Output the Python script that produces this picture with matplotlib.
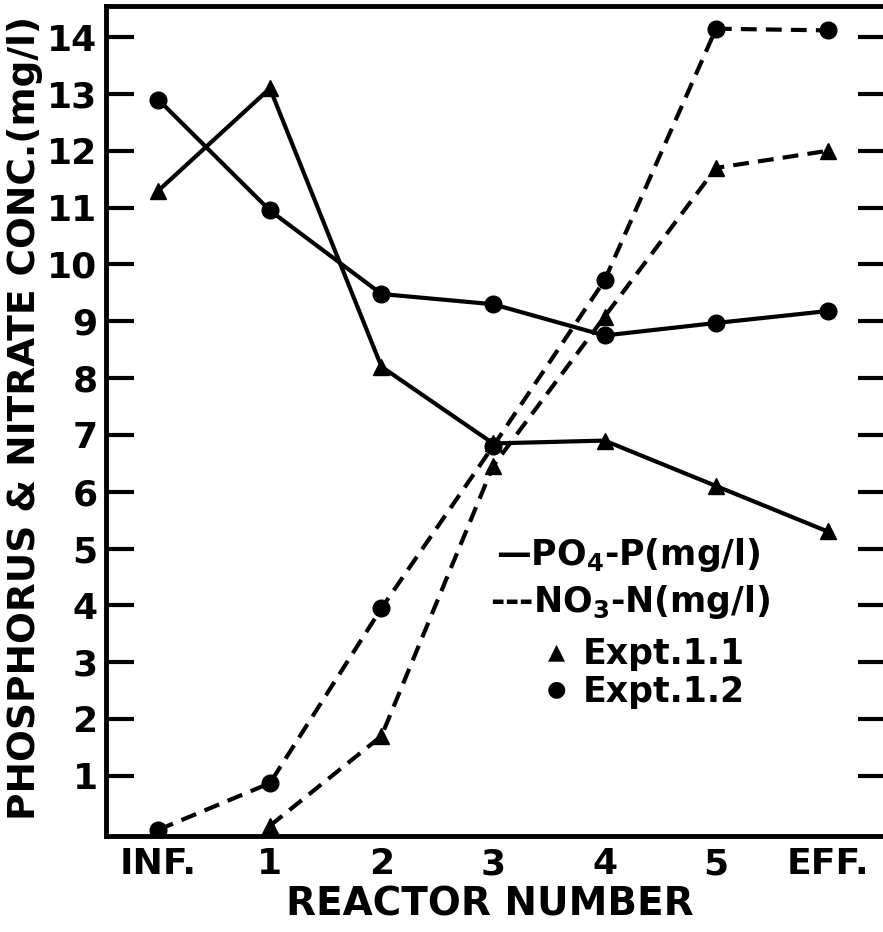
import numpy as np
import matplotlib
matplotlib.use("Agg")
import matplotlib.pyplot as plt

plt.rcParams['font.family'] = ['Liberation Sans Narrow', 'DejaVu Sans']
plt.rcParams['font.weight'] = 'bold'
plt.rcParams['mathtext.fontset'] = 'custom'
plt.rcParams['mathtext.rm'] = 'Liberation Sans Narrow:bold'
plt.rcParams['mathtext.it'] = 'Liberation Sans Narrow:bold'
plt.rcParams['mathtext.bf'] = 'Liberation Sans Narrow:bold'

# reactor positions
reactors = ['INF.', '1', '2', '3', '4', '5', 'EFF.']

# phosphate (solid lines)
po4_expt11 = [11.3, 13.1, 8.2, 6.85, 6.9, 6.1, 5.3]
po4_expt12 = [12.9, 10.95, 9.48, 9.3, 8.75, 8.97, 9.18]

# nitrate (dashed lines)
no3_expt11 = [np.nan, 0.12, 1.7, 6.45, 9.08, 11.7, 12.0]
no3_expt12 = [0.05, 0.87, 3.95, 6.8, 9.72, 14.15, 14.12]

x = np.arange(len(reactors))

fig = plt.figure(figsize=(8.83, 9.32), dpi=100)
ax = fig.add_axes([0.12, 0.103, 0.883, 0.8906])

lw = 3.0
dash = (0, (3.8, 2.2))
ax.plot(x, po4_expt11, '-', color='black', lw=lw, marker='^', ms=12)
ax.plot(x, po4_expt12, '-', color='black', lw=lw, marker='o', ms=12)
ax.plot(x, no3_expt11, color='black', lw=lw, ls=dash, marker='^', ms=12)
ax.plot(x, no3_expt12, color='black', lw=lw, ls=dash, marker='o', ms=12)

ax.set_xlim(-0.47, 6.52)
ax.set_ylim(-0.06, 14.55)

ax.set_yticks(range(1, 15))
ax.set_yticklabels([str(i) for i in range(1, 15)], fontsize=26)
ax.tick_params(axis='y', direction='in', length=20, width=3, pad=6,
               right=True)
ax.set_xticks(x)
ax.set_xticklabels(reactors, fontsize=26)
ax.tick_params(axis='x', length=0, pad=8)

for s in ax.spines.values():
    s.set_linewidth(3.5)

fig.text(0.028, 0.552, 'PHOSPHORUS & NITRATE CONC.(mg/l)', rotation=90,
         ha='center', va='center', fontsize=27)
fig.text(0.555, 0.029, 'REACTOR NUMBER', ha='center', va='center',
         fontsize=28)

# legend as text
fig.text(0.562, 0.404, r'—PO$_4$-P(mg/l)', ha='left', va='center', fontsize=25)
fig.text(0.555, 0.354, r'---NO$_3$-N(mg/l)', ha='left', va='center', fontsize=25)
fig.text(0.630, 0.300, '▲', ha='center', va='center', fontsize=16,
         family='DejaVu Sans')
fig.text(0.660, 0.298, 'Expt.1.1', ha='left', va='center', fontsize=25)
fig.text(0.630, 0.260, '●', ha='center', va='center', fontsize=16,
         family='DejaVu Sans')
fig.text(0.660, 0.258, 'Expt.1.2', ha='left', va='center', fontsize=25)

fig.savefig('out.png', dpi=100)
